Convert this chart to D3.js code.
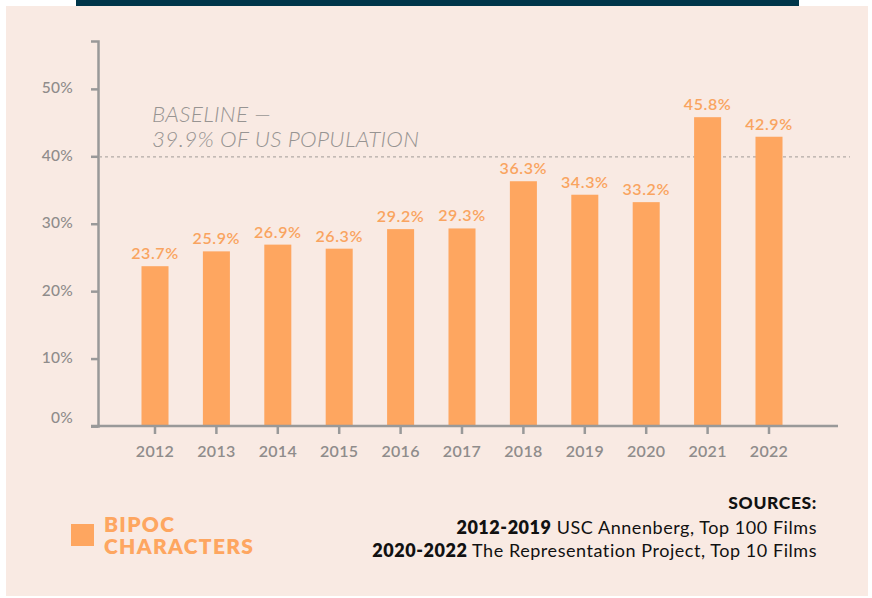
<!DOCTYPE html>
<html>
<head>
<meta charset="utf-8">
<script src="https://cdn.jsdelivr.net/npm/d3@7"></script>
<style>
  html, body { margin: 0; padding: 0; background: #fff; }
  svg { display: block; }
</style>
</head>
<body>
<div id="chart"></div>
<script>
const years = ['2012', '2013', '2014', '2015', '2016', '2017', '2018', '2019', '2020', '2021', '2022'];
const bipocShare = [23.7, 25.9, 26.9, 26.3, 29.2, 29.3, 36.3, 34.3, 33.2, 45.8, 42.9];
const yTicks = [0, 10, 20, 30, 40, 50];
const baselineValue = 39.9;
const baselineLines = ['BASELINE —', '39.9% OF US POPULATION'];
const legendLines = ['BIPOC', 'CHARACTERS'];
const sources = [
    { bold: '2012-2019', text: ' USC Annenberg, Top 100 Films' },
    { bold: '2020-2022', text: ' The Representation Project, Top 10 Films' }
];

const W = 872, H = 598;
const orange = '#fea660';
const grey = '#8f8c8b';
const font = 'Lato, "Noto Sans", sans-serif';

const svg = d3.select('#chart').append('svg')
    .attr('width', W)
    .attr('height', H);

// panel + dark strip on top
svg.append('rect').attr('x', 6).attr('y', 6).attr('width', 862).attr('height', 590).attr('fill', '#f9eae3');
svg.append('rect').attr('x', 76).attr('y', 0).attr('width', 723).attr('height', 6).attr('fill', '#00364a');

const x = d3.scaleBand()
    .domain(years)
    .range([124.3, 799.7])
    .paddingInner(0.56)
    .paddingOuter(0.28);

const y = d3.scaleLinear()
    .domain([0, 57.1])
    .range([426, 41]);

// y axis
const yAxis = svg.append('g')
    .attr('transform', 'translate(98,0)')
    .call(d3.axisLeft(y).tickValues(yTicks).tickSize(7).tickPadding(18).tickFormat(d => d + '%'));
yAxis.select('.domain').attr('stroke', '#999').attr('stroke-width', 2.5);
yAxis.selectAll('.tick line').attr('stroke', '#999').attr('stroke-width', 2.5);
yAxis.selectAll('.tick text')
    .attr('fill', grey)
    .attr('y', d => d === 0 ? -8 : -1)
    .style('font-family', font)
    .style('font-size', '15.5px')
    .style('font-weight', 500)
    .style('letter-spacing', '0.3px');

// baseline dashed line
svg.append('line')
    .attr('x1', 99).attr('x2', 850)
    .attr('y1', y(baselineValue)).attr('y2', y(baselineValue))
    .attr('stroke', '#b3aba7')
    .attr('stroke-width', 1.3)
    .attr('stroke-dasharray', '3,3');

svg.append('text')
    .attr('x', 152)
    .attr('y', 122)
    .attr('fill', '#979492')
    .style('font-family', font)
    .style('font-size', '22.5px')
    .style('font-style', 'italic')
    .style('font-weight', 300)
    .style('letter-spacing', '0.3px')
    .selectAll('tspan')
    .data(baselineLines)
    .join('tspan')
    .attr('x', 152)
    .attr('dy', (d, i) => i === 0 ? 0 : 25)
    .text(d => d);

// bars
const data = years.map((yr, i) => ({ year: yr, value: bipocShare[i] }));

svg.append('g')
    .selectAll('rect')
    .data(data)
    .join('rect')
    .attr('x', d => x(d.year))
    .attr('y', d => y(d.value))
    .attr('width', x.bandwidth())
    .attr('height', d => y(0) - y(d.value))
    .attr('fill', orange);

svg.append('g')
    .selectAll('text')
    .data(data)
    .join('text')
    .attr('x', d => x(d.year) + x.bandwidth() / 2)
    .attr('y', d => y(d.value) - 7)
    .attr('text-anchor', 'middle')
    .attr('fill', '#f9a460')
    .style('font-family', font)
    .style('font-size', '16px')
    .style('font-weight', 600)
    .style('letter-spacing', '0.6px')
    .text(d => d.value.toFixed(1) + '%');

// x axis
const xAxis = svg.append('g')
    .attr('transform', 'translate(0,426)')
    .call(d3.axisBottom(x).tickSize(8).tickSizeOuter(0).tickPadding(12));
xAxis.select('.domain').attr('d', 'M91,0H838').attr('stroke', '#999').attr('stroke-width', 2.5);
xAxis.selectAll('.tick line').attr('stroke', '#999').attr('stroke-width', 2.5);
xAxis.selectAll('.tick text')
    .attr('fill', grey)
    .style('font-family', font)
    .style('font-size', '16px')
    .style('font-weight', 600)
    .style('letter-spacing', '0.3px');

// legend
svg.append('rect').attr('x', 71).attr('y', 524).attr('width', 23).attr('height', 22).attr('fill', orange);
svg.append('text')
    .attr('fill', orange)
    .style('font-family', font)
    .style('font-size', '21px')
    .style('font-weight', 800)
    .style('letter-spacing', '1.3px')
    .selectAll('tspan')
    .data(legendLines)
    .join('tspan')
    .attr('x', 104)
    .attr('y', (d, i) => 532 + i * 21.5)
    .text(d => d);

// sources
svg.append('text')
    .attr('x', 817).attr('y', 509)
    .attr('text-anchor', 'end')
    .attr('fill', '#111')
    .style('font-family', font)
    .style('font-size', '17.5px')
    .style('font-weight', 900)
    .style('letter-spacing', '0.6px')
    .text('SOURCES:');

const src = svg.append('g');
sources.forEach((s, i) => {
    const t = src.append('text')
        .attr('x', 817).attr('y', 534 + i * 23)
        .attr('text-anchor', 'end')
        .attr('fill', '#111')
        .style('font-family', font)
        .style('font-size', '18px')
        .style('letter-spacing', '0.55px');
    t.append('tspan').style('font-weight', 800).text(s.bold);
    t.append('tspan').style('font-weight', 400).text(s.text);
});
</script>
</body>
</html>
